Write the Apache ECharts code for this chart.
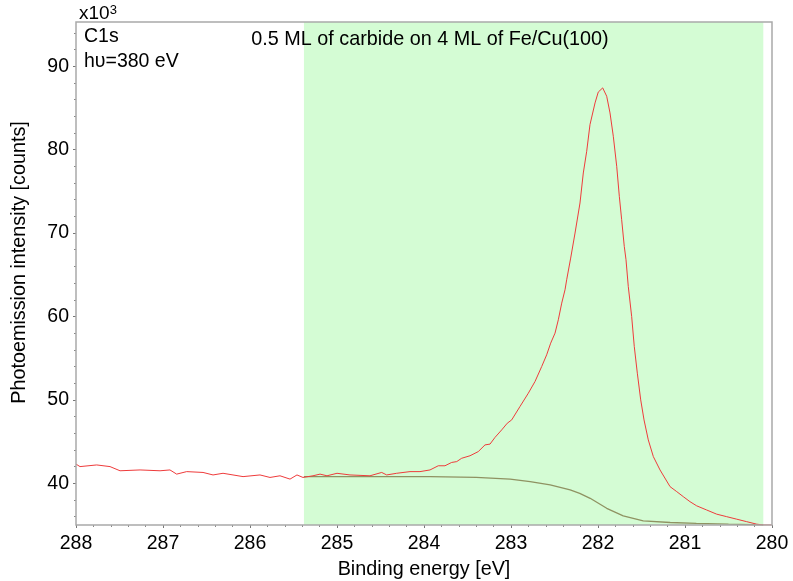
<!DOCTYPE html>
<html>
<head>
<meta charset="utf-8">
<title>C1s photoemission spectrum</title>
<script src="https://cdn.jsdelivr.net/npm/echarts@6/dist/echarts.min.js"></script>
<style>
  html, body { margin: 0; padding: 0; background: #ffffff; }
  #chart { width: 793px; height: 581px; }
</style>
</head>
<body>
<div id="chart"></div>
<script>
// C1s spectrum: binding energy (eV) and intensity (x10^3 counts)
const energy = [
  288.000, 287.954, 287.762, 287.609, 287.494, 287.264, 287.034, 286.920, 286.843, 286.728,
  286.540, 286.425, 286.310, 286.080, 285.885, 285.770, 285.655, 285.540, 285.460, 285.391,
  285.276, 285.195, 285.115, 285.000, 284.851, 284.621, 284.486, 284.429, 284.314, 284.161,
  284.046, 283.931, 283.836, 283.759, 283.682, 283.624, 283.567, 283.471, 283.376, 283.299,
  283.241, 283.184, 283.107, 283.043, 282.992, 282.897, 282.801, 282.724, 282.647, 282.590,
  282.544, 282.494, 282.456, 282.417, 282.379, 282.360, 282.314, 282.264, 282.207, 282.169,
  282.130, 282.092, 282.034, 281.997, 281.946, 281.900, 281.862, 281.824, 281.785, 281.755,
  281.728, 281.698, 281.678, 281.652, 281.613, 281.583, 281.548, 281.509, 281.471, 281.422,
  281.364, 281.287, 281.218, 281.172, 281.095, 281.020, 280.943, 280.866, 280.751, 280.636,
  280.521, 280.406, 280.291, 280.176, 280.100, 280.003
];
const intensity = [
  42.3, 42.0, 42.2, 42.0, 41.5, 41.6, 41.5, 41.6, 41.1, 41.4,
  41.3, 41.0, 41.2, 40.8, 41.0, 40.7, 40.9, 40.5, 41.0, 40.7,
  40.9, 41.1, 40.9, 41.2, 41.0, 40.9, 41.3, 41.0, 41.2, 41.4,
  41.4, 41.6, 42.1, 42.1, 42.5, 42.6, 43.0, 43.3, 43.8, 44.6,
  44.7, 45.5, 46.4, 47.2, 47.6, 49.2, 50.8, 52.2, 54.0, 55.4,
  56.8, 58.0, 59.6, 61.6, 63.2, 64.4, 67.0, 70.0, 73.6, 77.2,
  79.8, 83.0, 85.6, 86.9, 87.4, 86.4, 84.4, 81.6, 78.0, 74.4,
  71.6, 68.4, 66.8, 63.6, 60.0, 56.4, 53.2, 50.0, 47.6, 45.2,
  43.2, 41.6, 40.4, 39.6, 39.0, 38.4, 37.8, 37.3, 36.8, 36.3,
  36.0, 35.7, 35.4, 35.1, 35.0, 35.0
];

// Shirley-type background under the peak
const bgEnergy = [
  285.38, 284.60, 284.00, 283.93, 283.40, 283.01, 282.78, 282.55, 282.32, 282.21,
  282.09, 281.90, 281.71, 281.48, 281.17, 280.87, 280.50, 280.10
];
const bgIntensity = [
  40.8, 40.8, 40.8, 40.8, 40.7, 40.5, 40.2, 39.8, 39.2, 38.8,
  38.2, 37.0, 36.1, 35.5, 35.3, 35.2, 35.1, 35.0
];

// Energy window used for the fit (shaded)
const fitWindow = [285.38, 280.10];

// Axis ticks
const yTicks = [40, 50, 60, 70, 80, 90];
const yMinorTicks = [36, 38, 42, 44, 46, 48, 52, 54, 56, 58, 62, 64, 66, 68, 72, 74, 76, 78, 82, 84, 86, 88, 92, 94];

const FONT = "'Liberation Sans', Arial, sans-serif";

const chart = echarts.init(document.getElementById('chart'), null, { renderer: 'canvas' });

chart.setOption({
  animation: false,
  backgroundColor: '#ffffff',
  grid: {
    left: 76, right: 21, top: 22, bottom: 56,
    outerBoundsMode: 'none',
    containLabel: false,
    show: true,
    z: 5,
    backgroundColor: 'transparent',
    borderColor: '#a9a9a9',
    borderWidth: 1.5
  },
  xAxis: {
    type: 'value',
    inverse: true,
    min: 280,
    max: 288,
    interval: 1,
    name: 'Binding energy [eV]',
    nameLocation: 'middle',
    nameGap: 35,
    nameTextStyle: { fontFamily: FONT, fontSize: 19.8, color: '#000' },
    axisLine: { show: false },
    axisTick: { show: true, inside: false, length: 3, lineStyle: { color: '#777', width: 1 } },
    minorTick: { show: true, splitNumber: 5, length: 2, lineStyle: { color: '#888', width: 1 } },
    splitLine: { show: false },
    axisLabel: { fontFamily: FONT, fontSize: 19.5, color: '#000', margin: 9 }
  },
  yAxis: [
    {
      type: 'value',
      min: 35,
      max: 95.3,
      name: 'Photoemission intensity [counts]',
      nameLocation: 'middle',
      nameGap: 46,
      nameTextStyle: { fontFamily: FONT, fontSize: 19.8, color: '#000', padding: [0, 0, 0, 22] },
      axisLine: { show: false },
      axisTick: { show: true, length: 3, customValues: yTicks, lineStyle: { color: '#777', width: 1 } },
      splitLine: { show: false },
      axisLabel: { fontFamily: FONT, fontSize: 19.5, color: '#000', margin: 7, customValues: yTicks }
    },
    {
      type: 'value',
      min: 35,
      max: 95.3,
      position: 'left',
      axisLine: { show: false },
      axisTick: { show: true, length: 2, customValues: yMinorTicks, lineStyle: { color: '#888', width: 1 } },
      splitLine: { show: false },
      axisLabel: { show: false, customValues: yMinorTicks }
    }
  ],
  graphic: [
    {
      type: 'text', left: 79, top: 4, z: 10,
      style: {
        text: '{b|x10}{s|3}',
        rich: {
          b: { fontFamily: FONT, fontSize: 19, fill: '#000' },
          s: { fontFamily: FONT, fontSize: 13, fill: '#000', verticalAlign: 'top' }
        }
      }
    },
    {
      type: 'text', left: 84, top: 27, z: 10,
      style: { text: 'C1s', fontFamily: FONT, fontSize: 19.5, fill: '#000' }
    },
    {
      type: 'text', left: 84, top: 52, z: 10,
      style: { text: 'h\u03c5=380 eV', fontFamily: FONT, fontSize: 19.5, fill: '#000' }
    },
    {
      type: 'text', x: 430, y: 30, z: 10,
      style: { text: '0.5 ML of carbide on 4 ML of Fe/Cu(100)', fontFamily: FONT, fontSize: 19.8, fill: '#000', align: 'center' }
    }
  ],
  series: [
    {
      name: 'C1s',
      type: 'line',
      z: 3,
      showSymbol: false,
      symbol: 'none',
      data: energy.map((e, i) => [e, intensity[i]]),
      lineStyle: { color: '#ee3b3b', width: 1 },
      markArea: {
        silent: true,
        itemStyle: { color: '#d4fcd4' },
        data: [[{ xAxis: fitWindow[0] }, { xAxis: fitWindow[1] }]]
      }
    },
    {
      name: 'Background',
      type: 'line',
      z: 2,
      showSymbol: false,
      symbol: 'none',
      data: bgEnergy.map((e, i) => [e, bgIntensity[i]]),
      lineStyle: { color: '#8f9262', width: 1.3 }
    }
  ]
});
</script>
</body>
</html>
